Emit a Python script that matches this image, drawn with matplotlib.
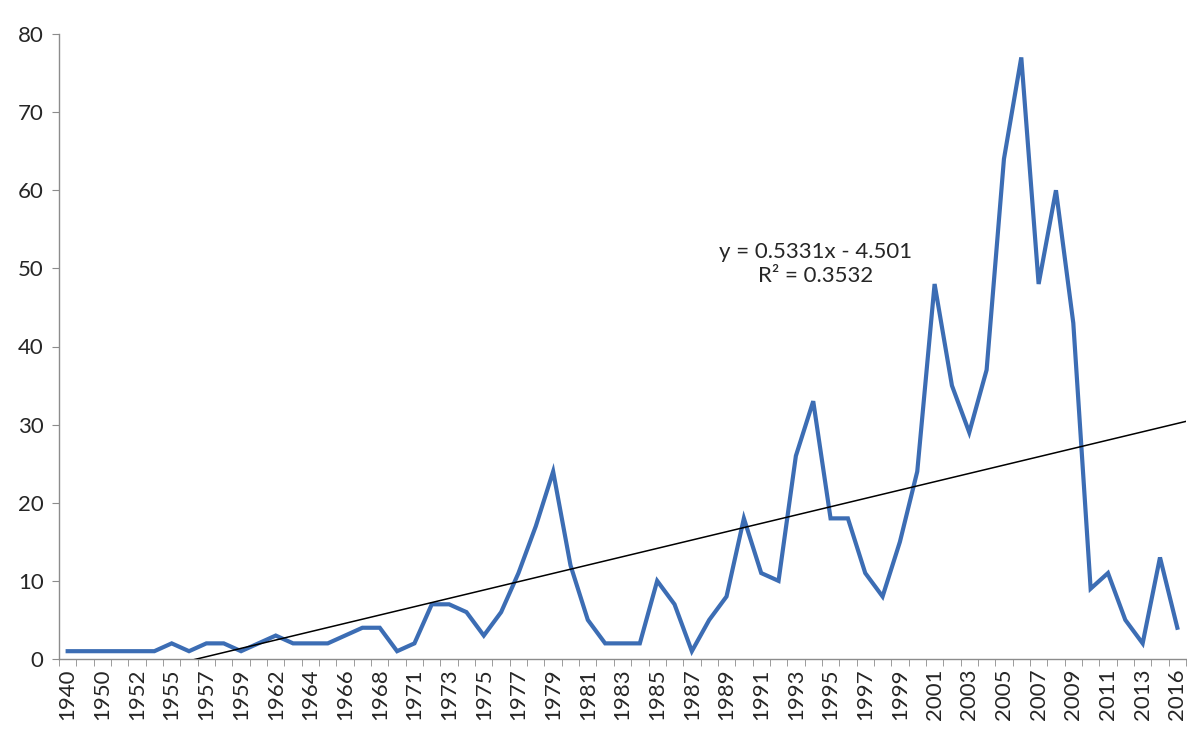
import matplotlib
matplotlib.use("Agg")
import matplotlib.pyplot as plt
import numpy as np

# Categories (years) — every other one is labelled on the axis
years = ["1940", "1948", "1950", "1951", "1952", "1954", "1955", "1956", "1957", "1958",
         "1959", "1961", "1962", "1963", "1964", "1965", "1966", "1967", "1968", "1970",
         "1971", "1972", "1973", "1974", "1975", "1976", "1977", "1978", "1979", "1980",
         "1981", "1982", "1983", "1984", "1985", "1986", "1987", "1988", "1989", "1990",
         "1991", "1992", "1993", "1994", "1995", "1996", "1997", "1998", "1999", "2000",
         "2001", "2002", "2003", "2004", "2005", "2006", "2007", "2008", "2009", "2010",
         "2011", "2012", "2013", "2014", "2016"]

counts = [1, 1, 1, 1, 1, 1, 2, 1, 2, 2,
          1, 2, 3, 2, 2, 2, 3, 4, 4, 1,
          2, 7, 7, 6, 3, 6, 11, 17, 24, 12,
          5, 2, 2, 2, 10, 7, 1, 5, 8, 18,
          11, 10, 26, 33, 18, 18, 11, 8, 15, 24,
          48, 35, 29, 37, 64, 77, 48, 60, 43, 9,
          11, 5, 2, 13, 4]

# Linear trendline as printed on the chart
trend_slope = 0.5331
trend_intercept = -4.501
trend_label = "y = 0.5331x - 4.501\nR² = 0.3532"

y_ticks = [0, 10, 20, 30, 40, 50, 60, 70, 80]

plt.rcParams['font.family'] = ['Lato', 'DejaVu Sans']

fig = plt.figure(figsize=(11.87, 7.35), dpi=100)
ax = fig.add_axes([59 / 1187, 1 - 659 / 735, (1186 - 59) / 1187, (659 - 34) / 735])

x = np.arange(1, len(years) + 1)
ax.plot(x, counts, color="#3C6DB4", linewidth=3.0, solid_joinstyle="miter", zorder=3)

xt = np.array([x[0] - 0.5, x[-1] + 0.5])
ax.plot(xt, trend_slope * xt + trend_intercept, color="black", linewidth=1.1, zorder=4)

ax.text(0.671, 0.632, trend_label, transform=ax.transAxes, ha="center", va="center",
        fontsize=16, color="#262626", linespacing=1.2)

ax.set_xlim(0.5, len(years) + 0.5)
ax.set_ylim(0, 80)
ax.set_yticks(y_ticks)
ax.set_yticklabels([str(v) for v in y_ticks], fontsize=16, color="#262626")

ax.set_xticks(x[::2])
ax.set_xticklabels(years[::2], rotation=90, fontsize=16, color="#262626")
ax.set_xticks(np.arange(0.5, len(years) + 1.0, 1.0), minor=True)
ax.tick_params(axis="x", which="major", length=0, pad=7)
ax.tick_params(axis="x", which="minor", length=5, color="#8c8c8c", direction="out")
ax.tick_params(axis="y", which="major", length=5, color="#8c8c8c", direction="out", pad=6)

for s in ["top", "right"]:
    ax.spines[s].set_visible(False)
for s in ["left", "bottom"]:
    ax.spines[s].set_color("#8c8c8c")
    ax.spines[s].set_linewidth(1.0)

fig.savefig("out.png", dpi=100, facecolor="white")
